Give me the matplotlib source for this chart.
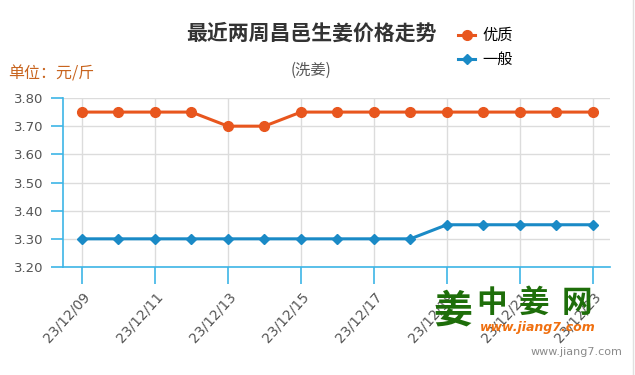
import matplotlib
matplotlib.use('Agg')
import matplotlib.pyplot as plt
from matplotlib.lines import Line2D

plt.rcParams['font.family'] = ['Noto Sans CJK SC', 'DejaVu Sans']

# data
dates = ['23/12/09', '23/12/10', '23/12/11', '23/12/12', '23/12/13', '23/12/14', '23/12/15', '23/12/16',
         '23/12/17', '23/12/18', '23/12/19', '23/12/20', '23/12/21', '23/12/22', '23/12/23']
good = [3.75, 3.75, 3.75, 3.75, 3.70, 3.70, 3.75, 3.75, 3.75, 3.75, 3.75, 3.75, 3.75, 3.75, 3.75]
normal = [3.30, 3.30, 3.30, 3.30, 3.30, 3.30, 3.30, 3.30, 3.30, 3.30, 3.35, 3.35, 3.35, 3.35, 3.35]
yticks = [3.20, 3.30, 3.40, 3.50, 3.60, 3.70, 3.80]

orange = '#e8561e'
blue = '#1a8ac6'
axis_blue = '#3db5e6'
green = '#1e6e0a'

fig = plt.figure(figsize=(6.35, 3.75), dpi=100)
ax = fig.add_axes([63 / 635, 1 - 267 / 375, (610 - 63) / 635, (267 - 98) / 375])

x = list(range(len(dates)))
ax.plot(x, good, color=orange, lw=2.2, marker='o', ms=7, label='优质', zorder=3)
ax.plot(x, normal, color=blue, lw=2.2, marker='D', ms=5.5, label='一般', zorder=3)

ax.set_xlim(-0.52, 14.47)
ax.set_ylim(3.20, 3.80)
ax.set_yticks(yticks)
ax.set_yticklabels(['%.2f' % v for v in yticks], family='DejaVu Sans', fontsize=9.5, color='#555555')
ax.set_xticks(x[::2])
ax.set_xticklabels(dates[::2], rotation=48, ha='right', rotation_mode='anchor',
                   family='DejaVu Sans', fontsize=10, color='#555555')

ax.grid(True, color='#dcdcdc', lw=1)
ax.set_axisbelow(True)
for s in ['top', 'right']:
    ax.spines[s].set_visible(False)
for s in ['left', 'bottom']:
    ax.spines[s].set_color(axis_blue)
    ax.spines[s].set_linewidth(1.2)
ax.tick_params(axis='y', length=9, color=axis_blue, width=1.2, pad=5)
ax.tick_params(axis='x', length=12, color=axis_blue, width=1.2, pad=4)

# titles
fig.text(311 / 635, 1 - 33 / 375, '最近两周昌邑生姜价格走势', ha='center', va='center',
         fontsize=15, fontweight='bold', color='#333333')
fig.text(311 / 635, 1 - 70 / 375, '(洗姜)', ha='center', va='center', fontsize=11, color='#555555')
fig.text(8 / 635, 1 - 74 / 375, '单位：元/斤', ha='left', va='center', fontsize=11.5, color='#c8641e')

fig.legend(loc='upper left', bbox_to_anchor=(452 / 635, 1 - 21 / 375), frameon=False,
           fontsize=11, handlelength=1.1, handletextpad=0.5, labelspacing=0.45, borderaxespad=0)

# watermark logo
fig.text(453 / 635, 1 - 311 / 375, '姜', ha='center', va='center', fontsize=28,
         fontweight='bold', color=green)
for ch, cx in zip('中姜网', [492, 534, 577]):
    fig.text(cx / 635, 1 - 303 / 375, ch, ha='center', va='center', fontsize=22,
             fontweight='bold', color=green)
fig.text(538 / 635, 1 - 327 / 375, 'www.jiang7.com', ha='center', va='center', fontsize=9,
         fontweight='bold', style='italic', color='#f07010', family='DejaVu Sans')
fig.text(622 / 635, 1 - 352 / 375, 'www.jiang7.com', ha='right', va='center', fontsize=8,
         color='#8a8a8a', family='DejaVu Sans')

fig.add_artist(Line2D([633 / 635, 633 / 635], [0, 1], color='#e0e0e0', lw=1, transform=fig.transFigure))

fig.savefig('out.png', dpi=100)
